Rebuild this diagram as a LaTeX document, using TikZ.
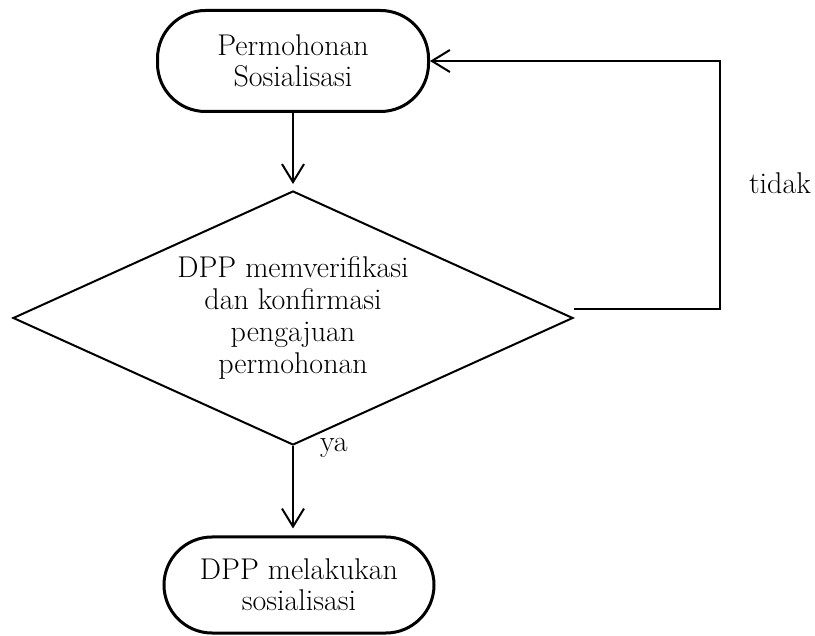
\documentclass[tikz,border=0pt]{standalone}
\usetikzlibrary{shapes.geometric,arrows.meta}

\begin{document}
\begin{tikzpicture}[x=0.5pt, y=-0.5pt, font=\fontsize{15}{15.5}\selectfont, t/.style={draw, line width=1.5pt, rounded corners=24pt, align=center}, d/.style={diamond, draw, line width=1pt, aspect=2.2, inner sep=0pt, align=center, minimum width=280pt, minimum height=127pt}, a/.style={line width=1pt, -{Straight Barb[length=9pt, width=11pt]}}]
		\useasboundingbox (0,0) rectangle (815,636);
		\node[t, minimum width=135.5pt, minimum height=50.5pt] (mohon) at (293,61) {Permohonan\\Sosialisasi};
		\node[d, font=\fontsize{15}{16}\selectfont] (verif) at (293,318) {DPP memverifikasi\\dan konfirmasi\\pengajuan\\permohonan};
		\node[t, minimum width=135pt, minimum height=48pt] (sosial) at (299,585) {DPP melakukan\\sosialisasi};
		\node (tidak) at (780,183) {tidak};
		\node[anchor=west] (ya) at (313,448) {ya};

		\draw[a, shorten >=3pt] (mohon) -- (verif);
		\draw[a, shorten >=3.5pt] (verif.south) -- (verif.south |- sosial.north);
		\draw[a] ([yshift=4.5pt]verif.east) -- ++(146,0) |- (mohon.east);
	\end{tikzpicture}
\end{document}
